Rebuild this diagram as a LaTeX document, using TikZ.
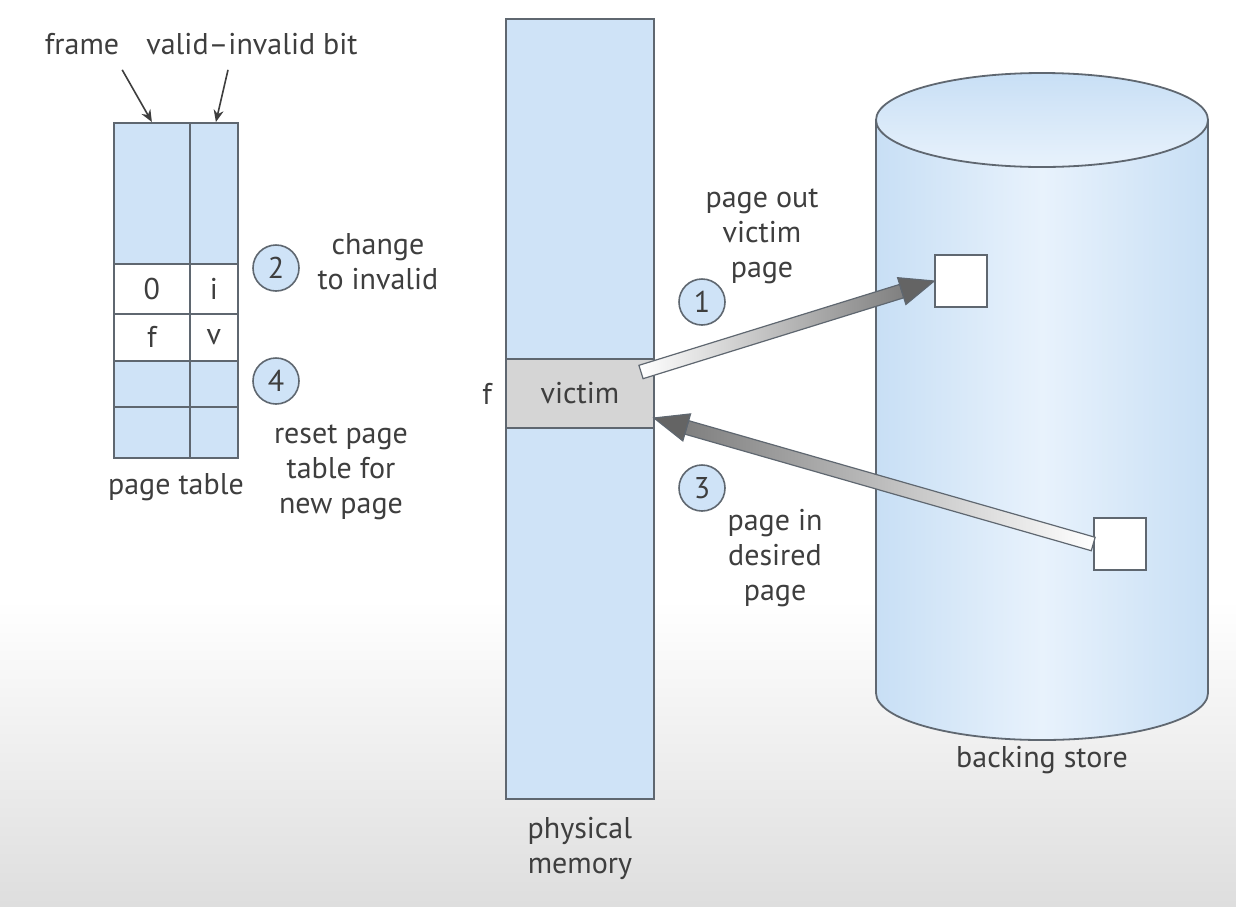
\documentclass[tikz,border=0pt]{standalone}
\usepackage{fontspec}
\setmainfont{PT Sans}
\usetikzlibrary{positioning, calc, arrows.meta}

\definecolor{memblue}{RGB}{207,227,247}
\definecolor{cylside}{RGB}{200,223,245}
\definecolor{cylmid}{RGB}{232,242,252}
\definecolor{edgegray}{RGB}{95,103,112}
\definecolor{txtgray}{RGB}{62,62,62}
\definecolor{victimgray}{RGB}{213,213,213}
\definecolor{headgray}{RGB}{100,100,100}

\tikzstyle{thinarrow} = [line width=0.8pt, draw=txtgray, -{Stealth[length=6pt,width=5pt]}]

% shaded block arrow: tail, tip, left colour, right colour
\newcommand{\fatarrow}[4]{%
  \coordinate (fa-hb) at ($(#2)!17pt!(#1)$);
  \path[draw=edgegray, line width=0.6pt, left color=#3, right color=#4]
    ($(#1)!3.5pt!90:(#2)$) -- ($(fa-hb)!3.5pt!90:(#2)$) --
    ($(fa-hb)!3.5pt!-90:(#2)$) -- ($(#1)!3.5pt!-90:(#2)$) -- cycle;
  \path[draw=edgegray, line width=0.6pt, fill=headgray]
    ($(fa-hb)!7pt!90:(#2)$) -- (#2) -- ($(fa-hb)!7pt!-90:(#2)$) -- cycle;
}

\begin{document}
\begin{tikzpicture}[
    x=0.5pt, y=-0.5pt,
    every node/.style={text=txtgray, font=\fontsize{15}{17.5}\selectfont, align=center},
    cell/.style={rectangle, draw=edgegray, line width=0.9pt, fill=memblue, anchor=north west, inner sep=0pt},
    framecol/.style={cell, minimum width=38pt},
    bitcol/.style={cell, minimum width=24pt},
    stepnum/.style={circle, draw=edgegray, line width=0.8pt, fill=memblue, minimum size=23pt, inner sep=0pt},
    slot/.style={rectangle, draw=edgegray, line width=0.8pt, fill=white, minimum size=26pt, inner sep=0pt}
]
    \useasboundingbox (0,0) rectangle (1236,906);
    \fill[white] (0,0) rectangle (1236,906);
    \shade[top color=white, bottom color=black!13] (0,600) rectangle (1236,906);

    % Page table
    \node[framecol, minimum height=70.5pt] (pt1f) at (113,122) {};
    \node[bitcol, minimum height=70.5pt] (pt1b) at (189,122) {};
    \node[framecol, minimum height=25pt, fill=white] (pt2f) at (113,263) {0};
    \node[bitcol, minimum height=25pt, fill=white] (pt2b) at (189,263) {i};
    \node[framecol, minimum height=23.5pt, fill=white] (pt3f) at (113,313) {f};
    \node[bitcol, minimum height=23.5pt, fill=white] (pt3b) at (189,313) {v};
    \node[framecol, minimum height=23pt] (pt4f) at (113,360) {};
    \node[bitcol, minimum height=23pt] (pt4b) at (189,360) {};
    \node[framecol, minimum height=25.5pt] (pt5f) at (113,406) {};
    \node[bitcol, minimum height=25.5pt] (pt5b) at (189,406) {};
    \coordinate (ptbase) at ($(pt5f.south west)!0.5!(pt5b.south east)$);
    \node[below=4pt of ptbase] (ptlabel) {page table};

    \node (framelbl) at (82,44) {frame};
    \node (bitlbl) at (252,44) {valid--invalid bit};
    \coordinate (framefrom) at ($(framelbl.south east)+(-4,8)$);
    \coordinate (bitfrom) at ($(bitlbl.south)+(-24,8)$);
    \draw[thinarrow] (framefrom) -- (pt1f.north);
    \draw[thinarrow] (bitfrom) -- ($(pt1b.north)+(2,0)$);

    % Steps 2 and 4
    \node[stepnum] (s2) at (276,268) {2};
    \node (s2lbl) at (378,262) {change\\to invalid};
    \node[stepnum] (s4) at (276,381) {4};
    \node (s4lbl) at (341,472) {reset page\\table for\\new page};

    % Physical memory
    \node[cell, minimum width=74pt, minimum height=390pt] (mem) at (505,18) {};
    \node[cell, minimum width=74pt, minimum height=34.5pt, fill=victimgray] (victim) at (505,358) {victim};
    \node[left=3pt of victim] (fmark) {f};
    \node[below=5pt of mem] (memlbl) {physical\\memory};

    % Backing store
    \path[draw=edgegray, line width=0.9pt, left color=cylside, right color=cylside, middle color=cylmid]
      (876,120) -- (876,693) arc[start angle=180, end angle=0, x radius=166, y radius=47]
      -- (1208,120) -- cycle;
    \path[draw=edgegray, line width=0.9pt, top color=cylside, bottom color=cylmid]
      (1042,120) ellipse[x radius=166, y radius=47];
    \node (storelbl) at (1042,760) {backing store};
    \node[slot] (slot1) at (961,281) {};
    \node[slot] (slot2) at (1120,544) {};

    % Page out / page in
    \coordinate (outfrom) at (641,372);
    \coordinate (into) at (654,418);
    \fatarrow{outfrom}{slot1.west}{white}{black!50}
    \fatarrow{slot2.west}{into}{black!50}{white}

    \node[stepnum] (s1) at (702,302) {1};
    \node (s1lbl) at (762,236) {page out\\victim\\page};
    \node[stepnum] (s3) at (702,488) {3};
    \node (s3lbl) at (775,558) {page in\\desired\\page};
\end{tikzpicture}
\end{document}
